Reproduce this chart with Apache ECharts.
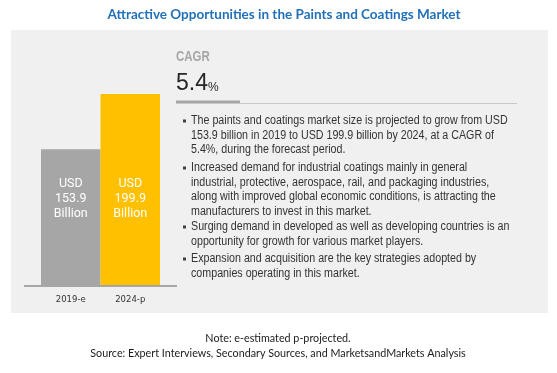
<!DOCTYPE html>
<html>
<head>
<meta charset="utf-8">
<script src="https://cdn.jsdelivr.net/npm/echarts@6/dist/echarts.min.js"></script>
<style>
html,body{margin:0;padding:0;background:#fff;}
#c{width:557px;height:373px;}
</style>
</head>
<body>
<div id="c"></div>
<script>
const chartTitle = 'Attractive Opportunities in the Paints and Coatings Market';
const categories = ['2019-e', '2024-p'];
const values = [153.9, 199.9];
const barColors = ['#A6A6A6', '#FFC000'];
const cagrLabel = 'CAGR';
const cagrValue = '5.4';
const bullets = [
  ['The paints and coatings market size is projected to grow from USD',
   '153.9 billion in 2019 to USD 199.9 billion by 2024, at a CAGR of',
   '5.4%, during the forecast period.'],
  ['Increased demand for industrial coatings mainly in general',
   'industrial, protective, aerospace, rail, and packaging industries,',
   'along with improved global economic conditions, is attracting the',
   'manufacturers to invest in this market.'],
  ['Surging demand in developed as well as developing countries is an',
   'opportunity for growth for various market players.'],
  ['Expansion and acquisition are the key strategies adopted by',
   'companies operating in this market.']
];
const bulletTops = [121, 168, 227, 259];
const notes = ['Note: e-estimated p-projected.',
  'Source: Expert Interviews, Secondary Sources, and MarketsandMarkets Analysis'];

const chart = echarts.init(document.getElementById('c'), null, {renderer: 'canvas'});

const graphics = [
  {type: 'rect', z: -10, shape: {x: 11, y: 30, width: 537, height: 283}, style: {fill: '#F0F0F0'}},
  {type: 'line', z: 5, shape: {x1: 24, y1: 286, x2: 177, y2: 286}, style: {stroke: '#A6A6A6', lineWidth: 2}},
  {type: 'text', x: 176, y: 57, scaleX: 0.82, style: {text: cagrLabel, fill: '#A6A6A6', font: 'bold 14px "Liberation Sans"', verticalAlign: 'middle'}},
  {type: 'text', x: 176, y: 84, style: {text: '{a|' + cagrValue + '}{b|%}', verticalAlign: 'middle',
    rich: {a: {fontSize: 23, fontFamily: 'Liberation Sans', fill: '#262626'},
           b: {fontSize: 12, fontFamily: 'Liberation Sans', fill: '#262626', padding: [8, 0, 0, 0]}}}},
  {type: 'rect', shape: {x: 176, y: 100.5, width: 64, height: 3}, style: {fill: '#A6A6A6'}},
  {type: 'line', shape: {x1: 176, y1: 103.5, x2: 517, y2: 103.5}, style: {stroke: '#C8C8C8', lineWidth: 1}}
];
const lineH = 14.5;
bullets.forEach((b, bi) => {
  graphics.push({type: 'rect', shape: {x: 183, y: bulletTops[bi] - 1.5, width: 3, height: 3}, style: {fill: '#404040'}});
  b.forEach((t, li) => {
    graphics.push({type: 'text', x: 191, y: bulletTops[bi] + li * lineH, scaleX: 0.855,
      style: {text: t, fill: '#333333', font: '12.5px "Liberation Sans"', verticalAlign: 'middle'}});
  });
});
notes.forEach((t, i) => {
  graphics.push({type: 'text', x: 278, y: 339 + i * 15,
    style: {text: t, fill: '#1A1A1A', font: '10.75px Lato', align: 'center', verticalAlign: 'middle'}});
});

chart.setOption({
  animation: false,
  title: {
    text: chartTitle, left: 279, textAlign: 'center', top: 3,
    textStyle: {color: '#2270B8', fontFamily: 'Lato', fontWeight: 'bold', fontSize: 13.5}
  },
  grid: {left: 41, right: 397, top: 94, bottom: 87, containLabel: false},
  xAxis: {
    type: 'category', data: categories,
    axisLine: {show: false}, axisTick: {show: false},
    axisLabel: {color: '#333', fontFamily: 'DejaVu Sans', fontSize: 8.5, margin: 9}
  },
  yAxis: {type: 'value', min: 40, max: 200, show: false, splitLine: {show: false}},
  graphic: graphics,
  series: [{
    type: 'bar',
    barCategoryGap: '0%',
    data: values.map((v, i) => ({value: v, itemStyle: {color: barColors[i]}})),
    label: {
      show: true, position: 'insideBottom', distance: 65,
      formatter: 'USD\n{c}\nBillion',
      color: '#fff', fontFamily: 'Roboto', fontSize: 12.5, lineHeight: 15
    }
  }]
});
</script>
</body>
</html>
